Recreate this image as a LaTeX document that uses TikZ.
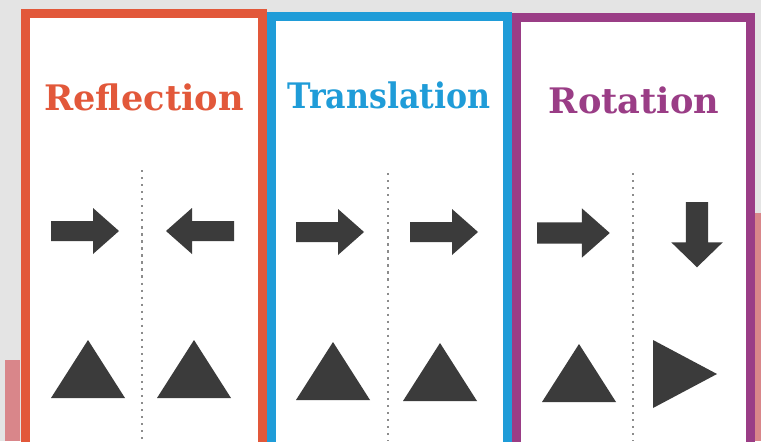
\documentclass[tikz,border=0pt]{standalone}
\usepackage{fontspec}
\setmainfont{DejaVu Serif}

\definecolor{orangeR}{HTML}{E2583A}
\definecolor{bleuT}{HTML}{1F9CD8}
\definecolor{violetR}{HTML}{9A3D86}
\definecolor{gris}{HTML}{3B3B3B}
\definecolor{fond}{HTML}{E4E4E4}
\definecolor{rose}{HTML}{D9868A}

\tikzset{
    cadre/.style={line width=6.4pt, fill=white},
    titre/.style={font=\bfseries\fontsize{25}{30}\selectfont, anchor=base},
    pointille/.style={gray!90, line width=1.2pt, dash pattern=on 1.6pt off 3.4pt},
    fleche/.pic={\fill[gris] (0,-10) -- (42,-10) -- (42,-23) -- (68,0) -- (42,23) -- (42,10) -- (0,10) -- cycle;},
    tri/.pic={\fill[gris] (-37,29) -- (37,29) -- (0,-29) -- cycle;},
    trid/.pic={\fill[gris] (-32,-34) -- (-32,34) -- (32,0) -- cycle;}
}

\begin{document}
\begin{tikzpicture}[x=0.025cm, y=-0.025cm]
    \useasboundingbox (0,0) rectangle (761,441);
    \clip (0,0) rectangle (761,441);

    % Dessiner le fond
    \fill[fond] (0,0) rectangle (761,441);
    \fill[rose] (755,213) rectangle (761,441);
    \fill[rose] (5,360) rectangle (20,441);

    % Dessiner les trois cadres
    \draw[cadre, draw=orangeR] (25,13) rectangle (262,470);
    \draw[cadre, draw=bleuT] (271,16) rectangle (507,470);
    \draw[cadre, draw=violetR] (516,17) rectangle (750,470);

    % Titres
    \node[titre, text=orangeR] (reflexion) at (144,110) {Reflection};
    \node[titre, text=bleuT, xscale=0.9] (translation) at (389,108) {Translation};
    \node[titre, text=violetR] (rotation) at (634,113) {Rotation};

    % Axes en pointilles
    \draw[pointille] (142,170) -- (142,441);
    \draw[pointille] (388,173) -- (388,441);
    \draw[pointille] (633,173) -- (633,441);

    % Reflexion
    \pic at (51,231) {fleche};
    \pic[rotate=180] at (234,231) {fleche};
    \pic at (88,369) {tri};
    \pic at (194,369) {tri};

    % Translation
    \pic at (296,232) {fleche};
    \pic at (410,232) {fleche};
    \pic at (333,371) {tri};
    \pic at (440,372) {tri};

    % Rotation
    \pic[scale=1.07] at (537,233) {fleche};
    \pic[rotate=-90, xscale=0.96, yscale=1.12] at (697,202) {fleche};
    \pic at (579,373) {tri};
    \pic at (685,374) {trid};
\end{tikzpicture}
\end{document}
